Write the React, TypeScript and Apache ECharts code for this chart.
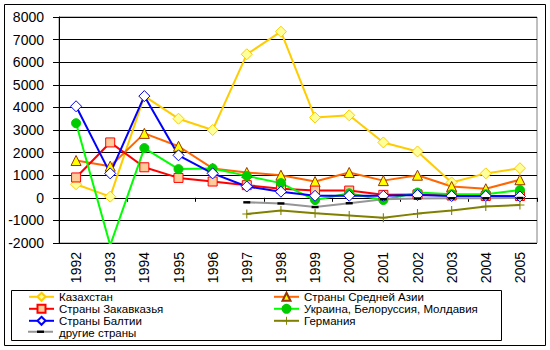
import React, { useEffect, useRef } from "react";
import * as echarts from "echarts";

const years = ["1992", "1993", "1994", "1995", "1996", "1997", "1998", "1999", "2000", "2001", "2002", "2003", "2004", "2005"];
const kazakhstan = [600, 50, 4500, 3500, 3000, 6350, 7350, 3550, 3650, 2450, 2050, 680, 1080, 1310];
const srednyayaAzia = [1650, 1400, 2850, 2280, 1300, 1120, 1000, 720, 1120, 760, 1000, 500, 400, 800];
const zakavkazye = [900, 2450, 1350, 880, 720, 560, 400, 320, 320, 130, 150, 100, 80, 80];
const ukraina = [3300, -2100, 2200, 1270, 1300, 970, 650, -100, 200, -100, 230, 160, 160, 350];
const baltia = [4050, 1080, 4500, 1880, 1080, 500, 270, 90, 90, 90, 120, 80, 80, 60];
const germania: (number | string)[] = ["-", "-", "-", "-", "-", -720, -560, -680, -780, -880, -700, -560, -380, -320];
const drugie: (number | string)[] = ["-", "-", "-", "-", "-", -200, -250, -410, -240, -60, -30, -20, -20, -10];

const FONT = "Liberation Sans, Arial, sans-serif";
const PLUS = "path://M0,4.4h10v1.2h-10z M4.4,0h1.2v10h-1.2z";
const DASH = "path://M0,0h7v2.4h-7z";

export default function App() {
  const ref = useRef<HTMLDivElement>(null);
  useEffect(() => {
    if (!ref.current) return;
    const chart = echarts.init(ref.current, undefined, { renderer: "svg" });
    const line = (name: string, data: any[], color: string, symbol: string, size: any, fill: string, border: string, bw = 1) => ({
      name,
      type: "line",
      data,
      xAxisIndex: 0,
      symbol,
      symbolSize: size,
      symbolKeepAspect: true,
      showAllSymbol: true,
      lineStyle: { color, width: 2 },
      itemStyle: { color: fill, borderColor: border, borderWidth: bw },
      emphasis: { disabled: true },
    });
    const legendText = { fontSize: 11.5, color: "#000", fontFamily: FONT, lineHeight: 11.7 };
    const rowY = 290.8 + 3 * 11.7 + 5.85;
    chart.setOption({
      animation: false,
      backgroundColor: "#fff",
      textStyle: { fontFamily: FONT },
      grid: { left: 59, right: 13, top: 17, bottom: 107, show: true, borderColor: "#808080", borderWidth: 1, backgroundColor: "#fff" },
      xAxis: [
        {
          type: "category",
          data: years,
          boundaryGap: true,
          axisLine: { onZero: true, lineStyle: { color: "#000", width: 1 } },
          axisTick: { show: true, length: 4, lineStyle: { color: "#000" } },
          axisLabel: { show: false },
          splitLine: { show: false },
        },
        {
          type: "category",
          data: years,
          position: "bottom",
          boundaryGap: true,
          axisLine: { show: false, onZero: false },
          axisTick: { show: false },
          axisLabel: { rotate: 90, fontSize: 14, color: "#000", fontFamily: FONT, margin: 9 },
          splitLine: { show: false },
        },
      ],
      yAxis: {
        type: "value",
        min: -2000,
        max: 8000,
        interval: 1000,
        axisLine: { show: true, lineStyle: { color: "#000" } },
        axisTick: { show: true, length: 6, lineStyle: { color: "#000" } },
        axisLabel: { fontSize: 14, color: "#000", fontFamily: FONT, margin: 15, formatter: (v: number) => String(v) },
        splitLine: { show: true, lineStyle: { color: "#000", width: 1 } },
      },
      legend: [
        {
          orient: "vertical",
          left: 28,
          top: 290.8,
          padding: 0,
          itemWidth: 25,
          itemHeight: 10,
          itemGap: 0,
          textStyle: legendText,
          data: [
            "Казахстан",
            "Страны Закавказья",
            "Страны Балтии",
            { name: "другие страны", icon: "rect", itemStyle: { color: "rgba(0,0,0,0)", borderWidth: 0 } },
          ],
        },
        {
          orient: "vertical",
          left: 273,
          top: 290.8,
          padding: 0,
          itemWidth: 25,
          itemHeight: 10,
          itemGap: 0,
          textStyle: legendText,
          data: ["Страны Средней Азии", "Украина, Белоруссия, Молдавия", "Германия"],
        },
      ],
      graphic: [
        { type: "rect", shape: { x: 4.5, y: 4.5, width: 541, height: 341 }, style: { fill: "none", stroke: "#000", lineWidth: 1 }, silent: true },
        { type: "rect", shape: { x: 11.5, y: 290.5, width: 490, height: 50 }, style: { fill: "none", stroke: "#000", lineWidth: 1 }, silent: true },
        { type: "line", shape: { x1: 28, y1: rowY, x2: 53, y2: rowY }, style: { stroke: "#969696", lineWidth: 2 }, silent: true, z: 100 },
        { type: "rect", shape: { x: 37, y: rowY - 1.2, width: 7, height: 2.4 }, style: { fill: "#000" }, silent: true, z: 101 },
      ],
      series: [
        line("Казахстан", kazakhstan, "#FFCC00", "diamond", 11, "#FFFF99", "#FFCC00"),
        line("Страны Средней Азии", srednyayaAzia, "#FF6600", "triangle", 10, "#FFFF00", "#993300"),
        line("Страны Закавказья", zakavkazye, "#FF0000", "rect", 9, "#FFCC99", "#FF0000"),
        line("Украина, Белоруссия, Молдавия", ukraina, "#00FF00", "circle", 9, "#00CC00", "#00CC00"),
        line("Страны Балтии", baltia, "#0000FF", "diamond", 11, "#FFFFFF", "#0000FF"),
        line("Германия", germania, "#808000", PLUS, 9, "#808000", "#808000", 0),
        line("другие страны", drugie, "#969696", DASH, 7, "#000000", "#000000", 0),
      ],
    });
    return () => chart.dispose();
  }, []);
  return <div ref={ref} style={{ position: "absolute", left: 0, top: 0, width: 550, height: 350, background: "#fff" }} />;
}
